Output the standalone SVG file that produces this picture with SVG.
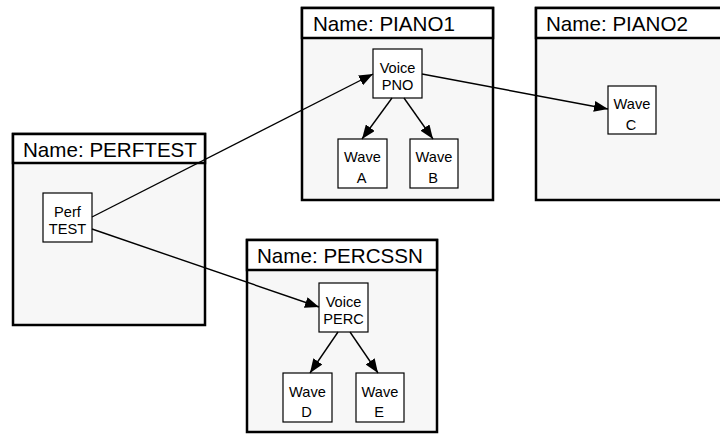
<svg xmlns="http://www.w3.org/2000/svg" width="720" height="434" viewBox="0 0 720 434">
<defs>
<style>
.pkg{fill:#f7f7f7;stroke:#000;stroke-width:2.5}
.hdr{fill:#fff;stroke:#000;stroke-width:2.5}
.ttl{font-family:"Liberation Sans",Arial,sans-serif;font-size:20.6px;fill:#000}
.nd{fill:#fff;stroke:#000;stroke-width:1.2}
.nt{font-family:"Liberation Sans",Arial,sans-serif;font-size:14.6px;fill:#000;text-anchor:middle}
.cn{stroke:#000;stroke-width:1.4;fill:none;marker-end:url(#ah)}
</style>
<marker id="ah" markerUnits="userSpaceOnUse" markerWidth="15" markerHeight="11" refX="14" refY="5.5" orient="auto">
<path d="M0,0 L14,5.5 L0,11 Z" fill="#000"/>
</marker>
</defs>
<rect width="720" height="434" fill="#fff"/>
<g id="pkg-perftest">
<rect class="pkg" x="13" y="134" width="192" height="191"/>
<rect class="hdr" x="13" y="134" width="192" height="29"/>
<text class="ttl" x="23" y="157">Name: PERFTEST</text>
</g>
<g id="pkg-piano1">
<rect class="pkg" x="302" y="8" width="191" height="192"/>
<rect class="hdr" x="302" y="8" width="191" height="30"/>
<text class="ttl" x="313" y="31">Name: PIANO1</text>
</g>
<g id="pkg-piano2">
<rect class="pkg" x="536" y="8" width="192" height="192"/>
<rect class="hdr" x="536" y="8" width="192" height="30"/>
<text class="ttl" x="546" y="31">Name: PIANO2</text>
</g>
<g id="pkg-percssn">
<rect class="pkg" x="247" y="240" width="190" height="192"/>
<rect class="hdr" x="247" y="240" width="190" height="30"/>
<text class="ttl" x="257" y="263">Name: PERCSSN</text>
</g>
<g id="perftest">
<rect class="nd" x="43" y="193" width="49" height="49"/>
<text class="nt" x="67.5" y="217">Perf</text>
<text class="nt" x="67.5" y="234">TEST</text>
</g>
<g id="voice-pno">
<rect class="nd" x="373" y="49" width="49" height="49"/>
<text class="nt" x="397.5" y="73">Voice</text>
<text class="nt" x="397.5" y="90">PNO</text>
</g>
<g id="wave-a">
<rect class="nd" x="338" y="139" width="49" height="49"/>
<text class="nt" x="362.5" y="162">Wave</text>
<text class="nt" x="361.5" y="183">A</text>
</g>
<g id="wave-b">
<rect class="nd" x="410" y="139" width="48" height="49"/>
<text class="nt" x="434" y="162">Wave</text>
<text class="nt" x="433" y="183">B</text>
</g>
<g id="wave-c">
<rect class="nd" x="608" y="86" width="48" height="48"/>
<text class="nt" x="632" y="109">Wave</text>
<text class="nt" x="631" y="130">C</text>
</g>
<g id="voice-perc">
<rect class="nd" x="319" y="283" width="49" height="49"/>
<text class="nt" x="343.5" y="307">Voice</text>
<text class="nt" x="343.5" y="324">PERC</text>
</g>
<g id="wave-d">
<rect class="nd" x="283" y="373" width="49" height="49"/>
<text class="nt" x="307.5" y="397">Wave</text>
<text class="nt" x="306.5" y="417">D</text>
</g>
<g id="wave-e">
<rect class="nd" x="356" y="373" width="48" height="49"/>
<text class="nt" x="380" y="397">Wave</text>
<text class="nt" x="379" y="417">E</text>
</g>
<g id="connectors">
<line class="cn" x1="92" y1="217" x2="373" y2="74"/>
<line class="cn" x1="92" y1="229" x2="319" y2="307"/>
<line class="cn" x1="422" y1="74" x2="608" y2="109"/>
<line class="cn" x1="392" y1="98" x2="362" y2="139"/>
<line class="cn" x1="404" y1="98" x2="433" y2="139"/>
<line class="cn" x1="338" y1="332" x2="310" y2="373"/>
<line class="cn" x1="350" y1="332" x2="378" y2="373"/>
</g>
</svg>
